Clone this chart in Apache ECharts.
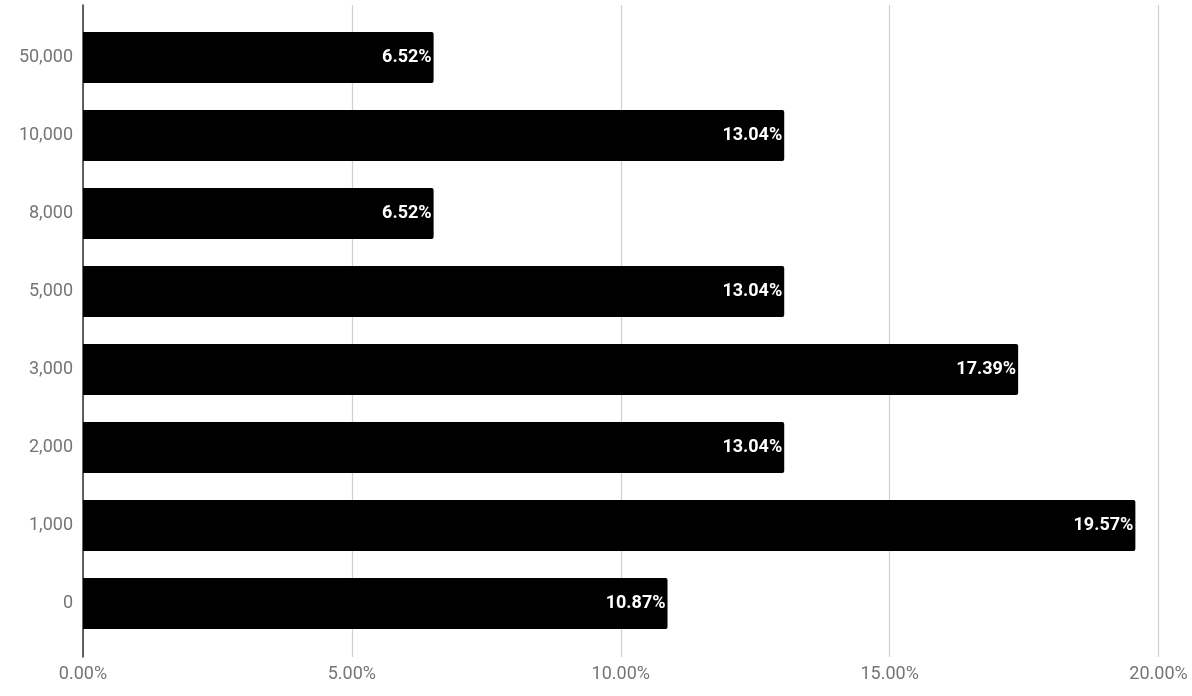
<!DOCTYPE html>
<html>
<head>
<meta charset="utf-8">
<script src="https://cdn.jsdelivr.net/npm/echarts@6/dist/echarts.min.js"></script>
<style>html,body{margin:0;padding:0;background:#fff}#c{width:1192px;height:696px}</style>
</head>
<body>
<div id="c"></div>
<script>
const categories = ["0", "1,000", "2,000", "3,000", "5,000", "8,000", "10,000", "50,000"];
const values = [10.87, 19.57, 13.04, 17.39, 13.04, 6.52, 13.04, 6.52];
const xTicks = [0, 5, 10, 15, 20];

const chart = echarts.init(document.getElementById('c'));
const font = "Roboto, 'Noto Sans', sans-serif";
chart.setOption({
  animation: false,
  grid: [
    {left: 83, right: 33.5, top: 5, bottom: 39},
    {left: 83, right: 33.5, top: 18.5, bottom: 53.5}
  ],
  xAxis: [
    {gridIndex: 0, type: 'value', min: xTicks[0], max: xTicks[xTicks.length-1], interval: 5,
     axisLine: {show: false}, axisTick: {show: false},
     splitLine: {lineStyle: {color: '#d0d0d0', width: 1.2}},
     axisLabel: {color: '#757575', fontSize: 18, fontFamily: font, margin: 8,
                 formatter: v => v.toFixed(2) + '%'}},
    {gridIndex: 1, type: 'value', min: xTicks[0], max: xTicks[xTicks.length-1], show: false}
  ],
  yAxis: [
    {gridIndex: 0, type: 'category', data: categories, axisLabel: {show: false},
     axisTick: {show: false}, axisLine: {lineStyle: {color: '#333', width: 1.5}}},
    {gridIndex: 1, type: 'category', data: categories,
     axisLine: {show: false}, axisTick: {show: false},
     axisLabel: {color: '#757575', fontSize: 18, fontFamily: font, margin: 10}}
  ],
  series: [{
    type: 'bar', xAxisIndex: 1, yAxisIndex: 1, data: values,
    barWidth: 51,
    itemStyle: {color: '#000', borderRadius: [0, 2, 2, 0]},
    label: {show: true, position: 'insideRight', offset: [3, 0], color: '#fff', fontWeight: 'bold',
            fontSize: 18, fontFamily: font, formatter: p => p.value.toFixed(2) + '%'}
  }]
});
</script>
</body>
</html>
